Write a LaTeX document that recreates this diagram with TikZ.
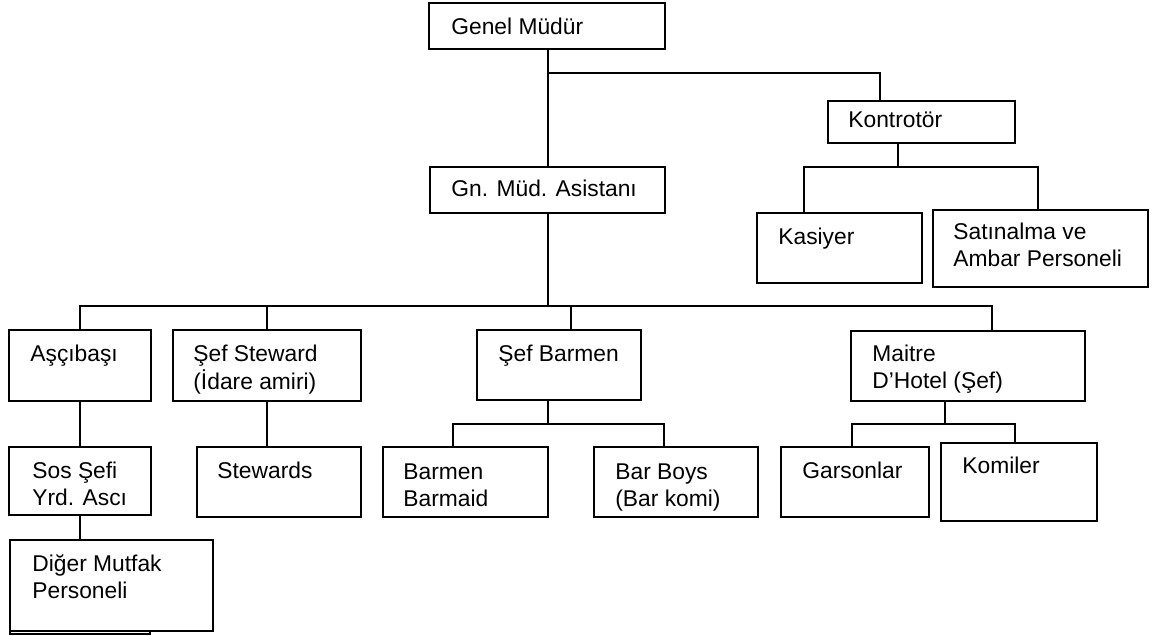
\documentclass[tikz,border=0pt]{standalone}
\usepackage{fontspec}
\setmainfont{Liberation Sans}
\begin{document}
\begin{tikzpicture}[x=0.5pt,y=-0.5pt,
  orgbox/.style={draw, line width=1pt, inner sep=0pt, outer sep=0pt,
    anchor=north west, fill=white},
  lbl/.style={inner sep=0pt, anchor=base west,
    font=\fontsize{11.4pt}{13.3pt}\selectfont},
  link/.style={line width=1pt}]
\useasboundingbox (0,0) rectangle (1164,636);

% \orgboxat{name}{left}{top}{width}{height}
\newcommand\orgboxat[5]{\node[orgbox, minimum width=#4*0.5pt,
  minimum height=#5*0.5pt] (#1) at (#2,#3) {};}
\newcommand\twolines[2]{\begin{tabular}[t]{@{}l@{}}#1\\#2\end{tabular}}

% boxes
\orgboxat{gm}{429}{3}{236}{46}
\orgboxat{gna}{430}{167}{235}{46}
\orgboxat{kon}{828}{101}{187}{42}
\orgboxat{kas}{757}{213}{165}{70}
\orgboxat{sat}{933}{210}{215}{77}
\orgboxat{asc}{9}{330}{142}{71}
\orgboxat{sst}{173}{330}{188}{71}
\orgboxat{sbar}{477}{330}{164}{70}
\orgboxat{mai}{851}{331}{234}{70}
\orgboxat{sos}{9}{447}{142}{68}
\orgboxat{stw}{197}{447}{164}{70}
\orgboxat{bmn}{383}{447}{165}{70}
\orgboxat{bby}{594}{447}{164}{70}
\orgboxat{gar}{781}{447}{148}{70}
\orgboxat{kom}{941}{443}{156}{78}
% a narrower frame peeking out beneath the last kitchen box
\draw[line width=1pt] (10,540) rectangle (150,634);
\orgboxat{dig}{10}{540}{203}{91}

% labels
\node[lbl] (t-gm)   at (451,35)  {Genel Müdür};
\node[lbl] (t-gna)  at (451,197) {Gn. Müd. Asistanı};
\node[lbl] (t-kon)  at (848,128) {Kontrotör};
\node[lbl] (t-kas)  at (778,245) {Kasiyer};
\node[lbl] (t-sat)  at (953,240) {\twolines{Satınalma ve}{Ambar Personeli}};
\node[lbl] (t-asc)  at (30,362)  {Aşçıbaşı};
\node[lbl] (t-sst)  at (193,362) {\twolines{Şef Steward}{(İdare amiri)}};
\node[lbl] (t-sbar) at (498,362) {Şef Barmen};
\node[lbl] (t-mai)  at (872,362) {\twolines{Maitre}{D’Hotel (Şef)}};
\node[lbl] (t-sos)  at (32,479)  {\twolines{Sos Şefi}{Yrd. Ascı}};
\node[lbl] (t-stw)  at (217,479) {Stewards};
\node[lbl] (t-bmn)  at (403,480) {\twolines{Barmen}{Barmaid}};
\node[lbl] (t-bby)  at (615,480) {\twolines{Bar Boys}{(Bar komi)}};
\node[lbl] (t-gar)  at (802,479) {Garsonlar};
\node[lbl] (t-kom)  at (962,474) {Komiler};
\node[lbl] (t-dig)  at (32,572)  {\twolines{Diğer Mutfak}{Personeli}};

% bus junctions
\coordinate (j1)  at (548,73);
\coordinate (k1)  at (880,73);
\coordinate (k2)  at (898,167);
\coordinate (k2a) at (804,167);
\coordinate (k2b) at (1038,167);
\coordinate (b2)  at (548,306);
\coordinate (b2a) at (80,306);
\coordinate (b2b) at (267,306);
\coordinate (b2c) at (571,306);
\coordinate (b2e) at (992,306);
\coordinate (b3)  at (548,424);
\coordinate (b3a) at (453,424);
\coordinate (b3b) at (664,424);
\coordinate (m3)  at (945,424);
\coordinate (m3a) at (852,424);
\coordinate (m3b) at (1015,424);

% connectors
\draw[link] (j1 |- gm.south) -- (j1 |- gna.north);
\draw[link] (j1) -- (k1) -- (k1 |- kon.north);
\draw[link] (k2 |- kon.south) -- (k2);
\draw[link] (k2a |- kas.north) -- (k2a) -- (k2b) -- (k2b |- sat.north);

\draw[link] (b2 |- gna.south) -- (b2);
\draw[link] (b2a |- asc.north) -- (b2a) -- (b2e) -- (b2e |- mai.north);
\draw[link] (b2b) -- (b2b |- sst.north);
\draw[link] (b2c) -- (b2c |- sbar.north);

\draw[link] (b2a |- asc.south) -- (b2a |- sos.north);
\draw[link] (b2a |- sos.south) -- (b2a |- dig.north);
\draw[link] (b2b |- sst.south) -- (b2b |- stw.north);

\draw[link] (b3 |- sbar.south) -- (b3);
\draw[link] (b3a |- bmn.north) -- (b3a) -- (b3b) -- (b3b |- bby.north);

\draw[link] (m3 |- mai.south) -- (m3);
\draw[link] (m3a |- gar.north) -- (m3a) -- (m3b) -- (m3b |- kom.north);
\end{tikzpicture}
\end{document}
